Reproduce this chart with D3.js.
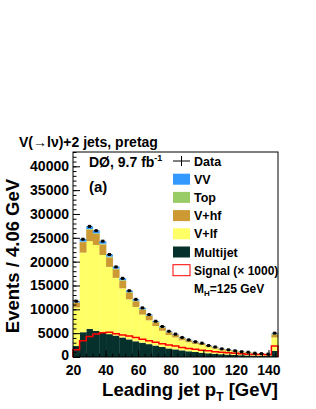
<!DOCTYPE html>
<html>
<head>
<meta charset="utf-8">
<script src="https://cdn.jsdelivr.net/npm/d3@7"></script>
<style>
  body { margin: 0; background: #fff; }
  text { font-family: "Liberation Sans", Arial, sans-serif; font-weight: bold; }
</style>
</head>
<body>
<div id="chart"></div>
<script>
// 31 bins of 4.06 GeV starting at 20 GeV (last one holds overflow)
var binLo = 20, binW = 4.06, nBins = 31;

var dataEvents = [11700, 24700, 27400, 26500, 24300, 21500, 18900, 16500, 13900, 12100, 10300, 8900, 7500, 6400, 5400, 4800, 4100, 3600, 3200, 2900, 2400, 2100, 1700, 1500, 1300, 1100, 1000, 800, 700, 600, 5000];
var multijet = [2300, 5200, 5900, 5500, 5200, 4800, 4500, 4100, 3700, 3300, 3000, 2700, 2400, 2100, 1800, 1600, 1400, 1200, 1050, 900, 780, 680, 580, 500, 430, 370, 320, 270, 230, 200, 1300];
var vlf = [8100, 16700, 18400, 18000, 16200, 14100, 12100, 10300, 8400, 7200, 5900, 5000, 4100, 3400, 2800, 2500, 2100, 1900, 1700, 1600, 1300, 1100, 880, 780, 680, 570, 530, 400, 360, 300, 2800];
var vhf = [1000, 2200, 2400, 2300, 2200, 2000, 1800, 1600, 1400, 1200, 1050, 900, 780, 680, 580, 510, 440, 390, 340, 300, 260, 220, 190, 165, 140, 120, 105, 90, 78, 66, 600];
var top_ = [60, 120, 150, 160, 160, 150, 140, 130, 120, 110, 100, 90, 80, 70, 60, 55, 50, 45, 40, 35, 30, 27, 24, 21, 19, 17, 15, 13, 11, 10, 120];
var vv = [250, 500, 550, 550, 500, 450, 400, 350, 300, 270, 230, 200, 170, 150, 130, 110, 100, 90, 80, 70, 60, 50, 45, 40, 35, 30, 28, 25, 22, 20, 150];
var signal = [1500, 3400, 4300, 4800, 5100, 5200, 4900, 4600, 4400, 4100, 3700, 3400, 3100, 2800, 2500, 2300, 2000, 1800, 1600, 1400, 1300, 1100, 1000, 900, 800, 700, 600, 550, 500, 450, 2300];

var yTicks = [0, 5000, 10000, 15000, 20000, 25000, 30000, 35000, 40000];
var xTicks = [20, 40, 60, 80, 100, 120, 140];

var layers = [
  {name: "Multijet", values: multijet, color: "#05302c"},
  {name: "V+lf", values: vlf, color: "#ffff66"},
  {name: "V+hf", values: vhf, color: "#cc9933"},
  {name: "Top", values: top_, color: "#99cc66"},
  {name: "VV", values: vv, color: "#3399ff"}
];

var W = 316, H = 409;
var svg = d3.select("#chart").append("svg").attr("width", W).attr("height", H);

var x = d3.scaleLinear().domain([binLo, binLo + nBins * binW]).range([73, 278]);
var y = d3.scaleLinear().domain([0, 43000]).range([357, 152]);

// stacked bins
var bins = d3.range(nBins).map(function(i) {
  var row = {i: i};
  layers.forEach(function(l) { row[l.name] = l.values[i]; });
  return row;
});
var stack = d3.stack().keys(layers.map(function(l) { return l.name; }))(bins);

var plot = svg.append("g");
stack.forEach(function(s, k) {
  plot.selectAll(null).data(s).enter().append("rect")
    .attr("x", function(d, i) { return x(binLo + i * binW); })
    .attr("width", function(d, i) { return x(binLo + (i + 1) * binW) - x(binLo + i * binW) + 0.3; })
    .attr("y", function(d) { return y(d[1]); })
    .attr("height", function(d) { return y(d[0]) - y(d[1]); })
    .attr("fill", layers[k].color);
});

// signal outline (step)
var sigPts = [[binLo, 0]];
signal.forEach(function(v, i) {
  sigPts.push([binLo + i * binW, v]);
  sigPts.push([binLo + (i + 1) * binW, v]);
});
sigPts.push([binLo + nBins * binW, 0]);
plot.append("path")
  .attr("d", d3.line().x(function(d) { return x(d[0]); }).y(function(d) { return y(d[1]); })(sigPts))
  .attr("fill", "none").attr("stroke", "#ff0000").attr("stroke-width", 1.5);

// data points
var pts = plot.selectAll(".pt").data(dataEvents).enter().append("g");
pts.append("line")
  .attr("x1", function(d, i) { return x(binLo + i * binW) + 1; })
  .attr("x2", function(d, i) { return x(binLo + (i + 1) * binW) - 1; })
  .attr("y1", function(d) { return y(d); }).attr("y2", function(d) { return y(d); })
  .attr("stroke", "#000").attr("stroke-width", 1);
pts.append("rect")
  .attr("x", function(d, i) { return x(binLo + (i + 0.5) * binW) - 1.5; })
  .attr("y", function(d) { return y(d) - 1.5; })
  .attr("width", 3).attr("height", 3).attr("fill", "#000");

// axes (ticks pointing inward)
var yMajor = d3.axisLeft(y).tickValues(yTicks).tickFormat(d3.format("d"))
  .tickSizeInner(-7).tickSizeOuter(0).tickPadding(4);
var yMinor = d3.axisLeft(y).tickValues(d3.range(0, 43001, 1000)).tickFormat("")
  .tickSizeInner(-3.5).tickSizeOuter(0);
var xMajor = d3.axisBottom(x).tickValues(xTicks).tickFormat(d3.format("d"))
  .tickSizeInner(-7).tickSizeOuter(0).tickPadding(8);
var xMinor = d3.axisBottom(x).tickValues(d3.range(20, 146, 4)).tickFormat("")
  .tickSizeInner(-3.5).tickSizeOuter(0);

[yMinor, yMajor].forEach(function(a) {
  svg.append("g").attr("transform", "translate(73,0)").call(a);
});
var yLabs = svg.selectAll("g").filter(function() { return this.parentNode === svg.node(); });
[xMinor, xMajor].forEach(function(a) {
  svg.append("g").attr("transform", "translate(0,357)").call(a);
});
svg.selectAll(".tick text").attr("font-size", 14).attr("fill", "#000");
// lift the "0" of the y axis a touch so it clears the "20" below it
yLabs.selectAll(".tick text").filter(function(d) { return d === 0; }).attr("dy", "0.15em");
svg.selectAll(".domain").remove();

svg.append("rect").attr("x", 73).attr("y", 152).attr("width", 205).attr("height", 205)
  .attr("fill", "none").attr("stroke", "#000").attr("stroke-width", 1);

// titles
svg.append("text").attr("x", 19).attr("y", 147).attr("font-size", 14).text("V(\u2192l\u03bd)+2 jets, pretag");
var lum = svg.append("text").attr("x", 89).attr("y", 167).attr("font-size", 14);
lum.append("tspan").text("D\u00d8, 9.7 fb");
lum.append("tspan").attr("dy", -6).attr("font-size", 9).text("-1");
svg.append("text").attr("x", 89).attr("y", 192).attr("font-size", 15).text("(a)");

svg.append("text").attr("transform", "translate(19,256) rotate(-90)")
  .attr("text-anchor", "middle").attr("font-size", 18.5).text("Events / 4.06 GeV");
var xt = svg.append("text").attr("x", 278).attr("y", 396).attr("text-anchor", "end").attr("font-size", 18.5);
xt.append("tspan").text("Leading jet p");
xt.append("tspan").attr("dy", 5).attr("font-size", 12).text("T");
xt.append("tspan").attr("dy", -5).text(" [GeV]");

// legend
var lg = svg.append("g");
var lx = 173, ly0 = 161, step = 18.2;
lg.append("line").attr("x1", lx).attr("x2", lx + 17).attr("y1", ly0).attr("y2", ly0).attr("stroke", "#000");
lg.append("line").attr("x1", lx + 8.5).attr("x2", lx + 8.5).attr("y1", ly0 - 5).attr("y2", ly0 + 5).attr("stroke", "#000");
lg.append("text").attr("x", 194).attr("y", ly0 + 4.5).attr("font-size", 12.5).text("Data");
var legItems = layers.slice().reverse();
legItems.forEach(function(l, i) {
  var cy = ly0 + (i + 1) * step;
  lg.append("rect").attr("x", lx).attr("y", cy - 5.5).attr("width", 17).attr("height", 11).attr("fill", l.color);
  lg.append("text").attr("x", 194).attr("y", cy + 4.5).attr("font-size", 12.5).text(l.name);
});
var sy = ly0 + 6 * step;
lg.append("rect").attr("x", lx).attr("y", sy - 5.5).attr("width", 17).attr("height", 11)
  .attr("fill", "#fff").attr("stroke", "#ff0000").attr("stroke-width", 1);
lg.append("text").attr("x", 194).attr("y", sy + 4.5).attr("font-size", 12).text("Signal (\u00d7 1000)");
var mh = lg.append("text").attr("x", 194).attr("y", ly0 + 7 * step + 4.5).attr("font-size", 12);
mh.append("tspan").text("M");
mh.append("tspan").attr("dy", 3).attr("font-size", 8).text("H");
mh.append("tspan").attr("dy", -3).text("=125 GeV");
</script>
</body>
</html>
